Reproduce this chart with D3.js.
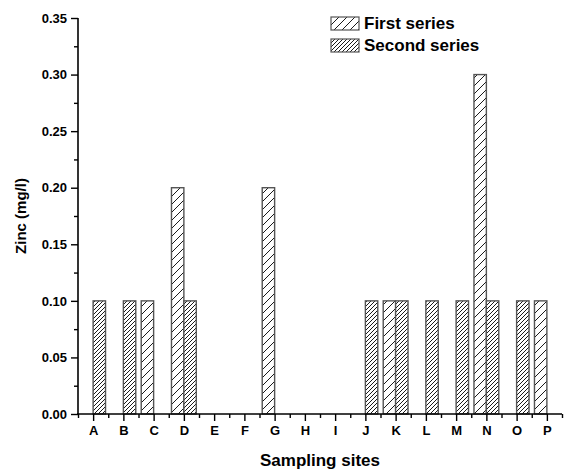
<!DOCTYPE html>
<html>
<head>
<meta charset="utf-8">
<script src="https://cdn.jsdelivr.net/npm/d3@7"></script>
<style>
  html, body { margin: 0; padding: 0; background: #fff; }
  svg text { font-family: "Liberation Sans", Arial, sans-serif; font-weight: bold; fill: #000; }
</style>
</head>
<body>
<svg id="chart" width="566" height="470"></svg>
<script>
// Zinc concentration per sampling site, two sampling campaigns
const sites = ["A","B","C","D","E","F","G","H","I","J","K","L","M","N","O","P"];
const firstSeries  = [0, 0, 0.10, 0.20, 0, 0, 0.20, 0, 0, 0, 0.10, 0, 0, 0.30, 0, 0.10];
const secondSeries = [0.10, 0.10, 0, 0.10, 0, 0, 0, 0, 0, 0.10, 0.10, 0.10, 0.10, 0.10, 0.10, 0];
const yTicks = [0, 0.05, 0.10, 0.15, 0.20, 0.25, 0.30, 0.35];
const seriesNames = ["First series", "Second series"];

const svg = d3.select("#chart");
const plot = { left: 78, right: 562, top: 18, bottom: 414 };

// site index -> pixel; half a step of padding on each side
const x = d3.scaleLinear().domain([-0.5, sites.length - 0.5]).range([plot.left, plot.right]);
const y = d3.scaleLinear().domain([0, 0.35]).range([plot.bottom, plot.top]);
const step = x(1) - x(0);
const barW = step * 0.41;

// Hatch fills: sparse and dense forward diagonals
const defs = svg.append("defs");
function hatch(id, s) {
  const p = defs.append("pattern").attr("id", id)
    .attr("patternUnits", "userSpaceOnUse").attr("width", s).attr("height", s);
  p.append("rect").attr("width", s).attr("height", s).attr("fill", "#fff");
  p.append("path")
    .attr("d", `M0,${s} L${s},0 M${-s/2},${s/2} L${s/2},${-s/2} M${s/2},${s*1.5} L${s*1.5},${s/2}`)
    .attr("stroke", "#000").attr("stroke-width", 0.9);
}
hatch("hatchSparse", 8);
hatch("hatchDense", 4);
const fills = ["url(#hatchSparse)", "url(#hatchDense)"];

// Bars: first series left of the site tick, second series right of it
const bars = [];
sites.forEach((s, i) => {
  if (firstSeries[i] > 0) bars.push({ i, v: firstSeries[i], k: 0 });
  if (secondSeries[i] > 0) bars.push({ i, v: secondSeries[i], k: 1 });
});
svg.append("g").selectAll("rect").data(bars).join("rect")
  .attr("x", d => d.k === 0 ? x(d.i) - barW : x(d.i))
  .attr("y", d => y(d.v))
  .attr("width", barW)
  .attr("height", d => y(0) - y(d.v))
  .attr("fill", d => fills[d.k])
  .attr("stroke", "#555")
  .attr("stroke-width", 1.4);

// Y axis with minor ticks between labelled ones
const minorY = d3.range(0.025, 0.35, 0.05);
const gy = svg.append("g").attr("transform", `translate(${plot.left},0)`);
gy.call(d3.axisLeft(y).tickValues(minorY).tickSize(4).tickFormat(""));
gy.call(g => g.append("g").call(d3.axisLeft(y).tickValues(yTicks).tickSize(7).tickPadding(4)
  .tickFormat(d3.format(".2f"))));
gy.selectAll(".domain").remove();
gy.selectAll("line").attr("stroke", "#000").attr("stroke-width", 1.4);
gy.selectAll("text").attr("font-size", 13);
svg.append("line").attr("x1", plot.left).attr("x2", plot.left)
  .attr("y1", y(0.35)).attr("y2", plot.bottom + 1)
  .attr("stroke", "#000").attr("stroke-width", 1.6);

// X axis: site ticks plus half-step minor ticks
const gx = svg.append("g").attr("transform", `translate(0,${plot.bottom})`);
gx.call(d3.axisBottom(x).tickValues(d3.range(-0.5, sites.length, 1)).tickSize(4).tickFormat(""));
gx.call(g => g.append("g").call(d3.axisBottom(x).tickValues(d3.range(sites.length)).tickSize(7)
  .tickPadding(5).tickFormat(i => sites[i])));
gx.selectAll(".domain").remove();
gx.selectAll("line").attr("stroke", "#000").attr("stroke-width", 1.4);
gx.selectAll("text").attr("font-size", 13);
svg.append("line").attr("x1", plot.left - 1).attr("x2", plot.right)
  .attr("y1", plot.bottom).attr("y2", plot.bottom)
  .attr("stroke", "#000").attr("stroke-width", 1.6);

// Axis titles
svg.append("text").attr("x", (plot.left + plot.right) / 2).attr("y", 466)
  .attr("text-anchor", "middle").attr("font-size", 17).text("Sampling sites");
svg.append("text").attr("transform", `translate(26,${(plot.top + plot.bottom) / 2}) rotate(-90)`)
  .attr("text-anchor", "middle").attr("font-size", 15).text("Zinc (mg/l)");

// Legend
const lg = svg.append("g").attr("transform", "translate(331,17)");
seriesNames.forEach((name, k) => {
  const row = lg.append("g").attr("transform", `translate(0,${k * 22})`);
  row.append("rect").attr("width", 28).attr("height", 13)
    .attr("fill", fills[k]).attr("stroke", "#555").attr("stroke-width", 1.2);
  row.append("text").attr("x", 33).attr("y", 12).attr("font-size", 17).text(name);
});
</script>
</body>
</html>
